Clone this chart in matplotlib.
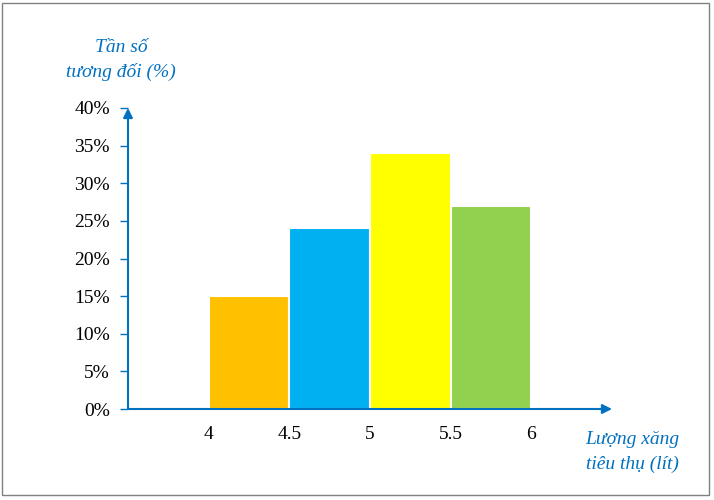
import matplotlib
matplotlib.use('Agg')
from matplotlib import pyplot as plt
from matplotlib.patches import Rectangle

# class edges (litres) and relative frequencies (%)
BIN_LEFT = [4, 4.5, 5, 5.5]
BIN_WIDTH = 0.5
FREQ = [15, 24, 34, 27]
COLORS = ['#FFC000', '#00B0F0', '#FFFF00', '#92D050']
XTICKS = [4, 4.5, 5, 5.5, 6]
XTICK_LABELS = ['4', '4.5', '5', '5.5', '6']
YTICKS = [0, 5, 10, 15, 20, 25, 30, 35, 40]

AXIS_BLUE = '#0070C0'
plt.rcParams['font.family'] = ['Liberation Serif', 'DejaVu Serif']


def main():
	W, H = 714, 500
	fig = plt.figure(figsize=(W / 100, H / 100), dpi=100)

	# axes placed in pixels: x 3.5 -> 128px, 6.5 -> 612px ; y 0 -> 409px, 40 -> 108px
	ax = fig.add_axes([128 / W, (H - 409) / H, (612 - 128) / W, (409 - 108) / H])
	ax.set_xlim(3.5, 6.5)
	ax.set_ylim(0, 40)

	ax.bar(BIN_LEFT, FREQ, width=BIN_WIDTH, align='edge', color=COLORS,
		edgecolor='white', linewidth=1.5, zorder=2)

	for s in ax.spines.values():
		s.set_visible(False)

	# axes with arrows
	ax.annotate('', xy=(6.5, 0), xytext=(3.5, 0), annotation_clip=False,
		arrowprops=dict(arrowstyle='-|>', color=AXIS_BLUE, lw=1.5, mutation_scale=14, shrinkA=0, shrinkB=0), zorder=3)
	ax.annotate('', xy=(3.5, 40), xytext=(3.5, 0), annotation_clip=False,
		arrowprops=dict(arrowstyle='-|>', color=AXIS_BLUE, lw=1.5, mutation_scale=14, shrinkA=0, shrinkB=0), zorder=3)

	ax.set_yticks(YTICKS)
	ax.set_yticklabels([f'{v}%' for v in YTICKS])
	ax.tick_params(axis='y', colors=AXIS_BLUE, length=6, width=1, pad=7, labelsize=14, labelcolor='black')

	ax.set_xticks(XTICKS)
	ax.set_xticklabels(XTICK_LABELS)
	ax.tick_params(axis='x', length=0, pad=12, labelsize=14, labelcolor='black')

	fig.text(121 / W, 1 - 47 / H, 'Tần số', ha='center', va='center', style='italic', color=AXIS_BLUE, fontsize=14)
	fig.text(121 / W, 1 - 72 / H, 'tương đối (%)', ha='center', va='center', style='italic', color=AXIS_BLUE, fontsize=14)
	fig.text(632 / W, 1 - 440 / H, 'Lượng xăng', ha='center', va='center', style='italic', color=AXIS_BLUE, fontsize=14)
	fig.text(632 / W, 1 - 464 / H, 'tiêu thụ (lít)', ha='center', va='center', style='italic', color=AXIS_BLUE, fontsize=14)

	# grey frame around the picture
	fig.patches.append(Rectangle((2 / W, 5 / H), 707 / W, 492 / H, transform=fig.transFigure,
		fill=False, edgecolor='#808080', linewidth=1))

	fig.savefig('out.png', dpi=100)


if __name__ == '__main__':
	main()
